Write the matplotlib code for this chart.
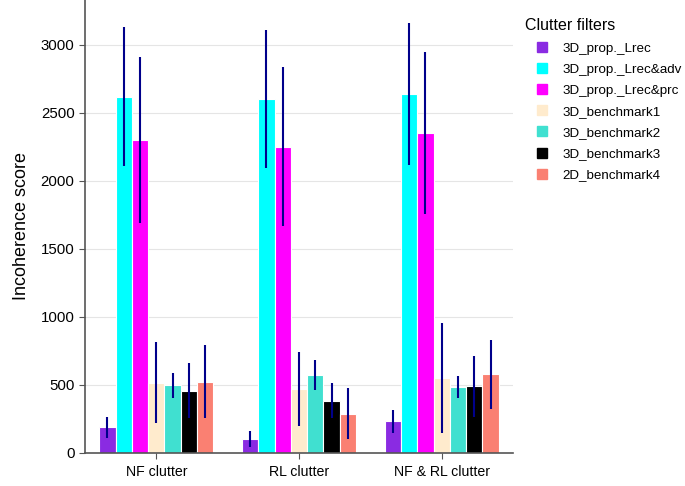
import matplotlib
matplotlib.use("Agg")
import matplotlib.pyplot as plt
from matplotlib.lines import Line2D
import numpy as np

plt.rcParams['font.family'] = ['Liberation Sans', 'DejaVu Sans']

groups = ["NF clutter", "RL clutter", "NF & RL clutter"]
filters = ["3D_prop._Lrec", "3D_prop._Lrec&adv", "3D_prop._Lrec&prc",
           "3D_benchmark1", "3D_benchmark2", "3D_benchmark3", "2D_benchmark4"]
colors = ["#8A2BE2", "#00FFFF", "#FF00FF", "#FFEBCD", "#40E0D0", "#000000", "#FA8072"]

# means per filter across groups
lrec = [188, 103, 232]
lrec_adv = [2618, 2603, 2640]
lrec_prc = [2303, 2252, 2352]
bench1 = [517, 470, 553]
bench2 = [496, 570, 487]
bench3 = [456, 385, 490]
bench4 = [522, 290, 577]

err_lrec = [78, 58, 82]
err_lrec_adv = [510, 510, 520]
err_lrec_prc = [610, 585, 598]
err_bench1 = [300, 275, 405]
err_bench2 = [90, 110, 80]
err_bench3 = [202, 130, 225]
err_bench4 = [268, 185, 255]

means = [lrec, lrec_adv, lrec_prc, bench1, bench2, bench3, bench4]
errs = [err_lrec, err_lrec_adv, err_lrec_prc, err_bench1, err_bench2, err_bench3, err_bench4]

fig = plt.figure(figsize=(6.85, 4.86), dpi=100)
ax = fig.add_axes([0.124, 0.068, 0.625, 0.932])

x = np.arange(len(groups))
n = len(filters)
w = 0.8 / n
for i in range(n):
    pos = x - 0.4 + w * (i + 0.5)
    ax.bar(pos, means[i], width=w, color=colors[i], edgecolor='white', linewidth=0.8, zorder=2)
    ax.errorbar(pos, means[i], yerr=errs[i], fmt='none', ecolor='#00008B', elinewidth=1.5, capsize=0, zorder=3)

ax.set_xlim(-0.5, 2.5)
ax.set_ylim(0, 3330)
ax.set_xticks(x)
ax.set_xticklabels(groups, fontsize=10.2)
ax.set_yticks([0, 500, 1000, 1500, 2000, 2500, 3000])
ax.tick_params(axis='y', labelsize=10.8, length=4, color='#555555')
ax.tick_params(axis='x', length=4, color='#555555', pad=5)
ax.set_ylabel("Incoherence score", fontsize=13, labelpad=8)
ax.yaxis.grid(True, color='#E5E5E5', linewidth=0.8, zorder=0)
ax.set_axisbelow(True)
for s in ['top', 'right']:
    ax.spines[s].set_visible(False)
for s in ['left', 'bottom']:
    ax.spines[s].set_color('#555555')
    ax.spines[s].set_linewidth(1.2)

handles = [Line2D([0], [0], marker='s', linestyle='none', markersize=7.5,
                  markerfacecolor=c, markeredgecolor=c) for c in colors]
leg = fig.legend(handles, filters, title="Clutter filters", loc='upper left',
                 bbox_to_anchor=(0.766, 0.962), frameon=False, fontsize=9.6,
                 title_fontsize=11.5, handlelength=2.6, handletextpad=0.25,
                 labelspacing=0.66, borderaxespad=0, borderpad=0)
leg._legend_box.align = "left"

fig.savefig("out.png", dpi=100)
